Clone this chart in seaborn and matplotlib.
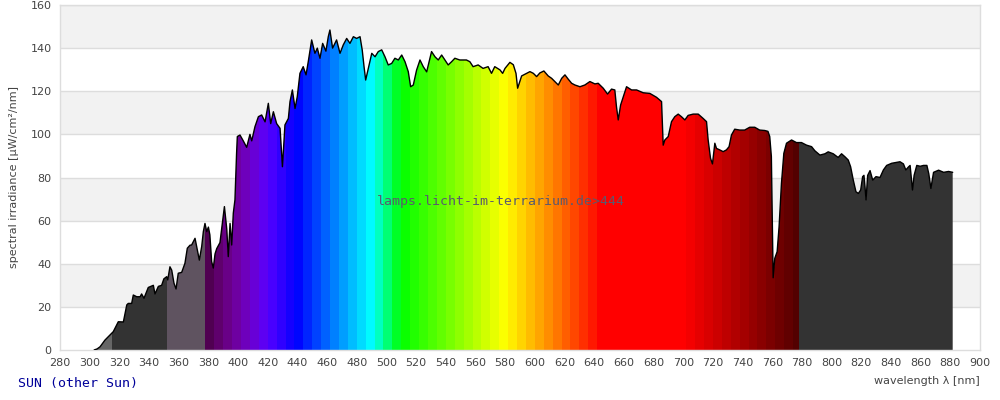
import numpy as np
import pandas as pd
import seaborn as sns
import matplotlib
matplotlib.use("Agg")
import matplotlib.pyplot as plt
from matplotlib.patches import Polygon

# spectral data (wavelength nm, irradiance uW/cm2/nm)
wavelength = [
    303.0, 305, 307, 310.3, 313.7, 315.9, 317, 319.3, 322.7, 325, 326, 328.3, 329.4, 331.7, 334, 335,
    336.6, 339.5, 342.9, 344, 346.3, 348.5, 350, 351.9, 352.6, 354.1, 355.3, 356.8, 358.2, 359.7, 362,
    364.2, 365.8, 367.6, 368.7, 369.8, 371, 372.1, 373.9, 375.5, 376.6, 377.7, 378.9, 380, 381, 382.2,
    383.3, 384.5, 385.6, 387.8, 390.8, 392.4, 393.4, 394.6, 395.7, 396.8, 397.9, 399, 399.5, 401.3,
    403.5, 405.8, 408, 409.2, 411.4, 413.7, 415.9, 418.2, 420.4, 422, 423.8, 426, 428.3, 429.9, 431.6,
    433.9, 435, 436.6, 438.4, 439.9, 441.7, 443.9, 445.8, 447.3, 449.6, 451.8, 453.4, 455.2, 457,
    459.2, 460.8, 461.9, 463.7, 466.4, 468.7, 470.9, 473.2, 475.4, 477.7, 479.9, 482.2, 483.7, 484.9,
    486, 487.8, 490.1, 492.3, 494.5, 496.8, 499, 501.2, 503.5, 505.7, 508, 510.3, 512.5, 514.7, 516.3,
    518.1, 520.3, 522.6, 524.8, 527.1, 529.3, 530.4, 532.7, 534.9, 537.2, 539.4, 541.6, 543.9, 546.1,
    549.4, 553.9, 556.2, 558.4, 561.8, 565.1, 568.5, 570.8, 573, 576.5, 578.3, 579.9, 583.2, 585.5,
    587.3, 588.4, 589.5, 591.1, 594.5, 596.7, 599, 601.2, 603.4, 606.1, 609, 611.3, 613.5, 615.8,
    618.1, 620.3, 622.5, 624.8, 627, 630.4, 633.7, 637.1, 640.5, 642.7, 646.1, 649, 651.7, 653.9, 655,
    656.2, 657.8, 659.6, 661.8, 665.2, 668.6, 673, 677.5, 682, 685.4, 686.5, 687.6, 689.9, 692.1,
    694.3, 696.6, 698.8, 701.1, 703.3, 706.7, 710.1, 713.4, 715.7, 716.8, 718.4, 719.7, 721.3, 722.4,
    724.6, 726.9, 729.1, 730.9, 732.5, 734.7, 738.1, 741.4, 744.8, 748.2, 751.5, 754.9, 757.1, 758.3,
    759.4, 759.9, 760.6, 761.7, 763.3, 764.6, 766.2, 767.8, 769.6, 773, 776.3, 779.7, 783.1, 786.5,
    788.7, 792.1, 795.5, 797.7, 801.1, 804.4, 806.7, 809, 811.2, 812.8, 814.6, 816.4, 818, 819.6,
    820.9, 821.8, 822.5, 823.2, 824.3, 825.9, 827.7, 829.9, 832.6, 834.9, 837.1, 840.5, 843.9, 846.1,
    848.4, 850, 851.8, 852.9, 854.5, 855.6, 857.4, 859.7, 861.9, 864.2, 865.5, 866.9, 868.7, 872.1,
    875.5, 878.8, 881.6,
]
irradiance = [
    0, 0.5, 1.5, 4.6, 7, 8.5, 10, 13.1, 13, 20.9, 21.6, 21.6, 25.5, 24.7, 24.7, 26,
    24, 29, 30, 26, 29.5, 30, 33, 34, 32.5, 38.6, 37, 31, 28.3, 35.6, 36,
    40.2, 47.2, 48.6, 48.7, 50.2, 51.8, 48, 41.7, 48, 54.9, 58.7, 54.9, 57, 53.4, 41,
    38, 44.6, 47, 49.8, 66.5, 56, 43.3, 58.7, 48.7, 63.5, 69.6, 91.2, 99, 99.7,
    97, 94, 100, 97, 103.6, 108.2, 109, 105.8, 114.4, 105, 110.5, 105, 102.8, 85, 104.4,
    107.4, 115.2, 120.6, 112, 117.5, 128.3, 131.4, 127.6, 133.7, 143.8, 137.6, 140, 135.3, 142.2,
    138.6, 145.3, 148.4, 140, 143.8, 137.6, 141.5, 144.5, 142.2, 145.3, 144.5, 145.3, 139, 131.4,
    125.2, 130.6, 137.6, 136, 138.4, 139.2, 136, 132.2, 132.9, 135.3, 134.5, 136.8, 133.7, 129.1, 122.1,
    122.9, 129.8, 134.5, 131.4, 129, 135.3, 138.4, 136, 134.5, 136.8, 134.5, 132.2, 133.7, 135.3,
    134.5, 134.5, 133.7, 131.4, 132.2, 130.6, 131.4, 128.3, 131.4, 129.9, 128.3, 130.6, 133.4, 132.3,
    128.3, 121.4, 123.7, 127.1, 128.3, 129.1, 128.3, 126.8, 128.5, 129.4, 127.1, 126, 124.5, 122.9,
    126, 127.6, 125.6, 123.7, 122.9, 122.1, 122.9, 124.5, 123.4, 123.7, 121.4, 118.7, 121, 120.6, 112.9,
    106.7, 113.6, 117.5, 122.1, 120.6, 120.6, 119.3, 119, 117.2, 115.2, 95, 97.4, 99, 105.9,
    108.2, 109.4, 108.2, 106.7, 108.8, 109.4, 109.4, 107.4, 105.9, 97.4, 88.9, 86.3, 95.9, 93.5,
    92.8, 92, 92.8, 94.3, 99.7, 102.4, 102, 102, 103.3, 103.3, 102, 101.8, 101.4, 99,
    89.7, 66.5, 33.5, 42.5, 45.6, 57.2, 77.3, 91.2, 95.9, 97.4, 96.2, 96.2, 95, 94.3,
    92.4, 90.4, 91, 91.9, 91, 89.3, 91, 89.6, 88.1, 85, 78.8, 73.4, 72.6, 74.2,
    80.4, 81, 75.7, 69.6, 81, 83.2, 78.8, 80.4, 80, 83.5, 85.6, 86.6, 87, 87.3,
    86.3, 83.5, 84.9, 85.6, 74.2, 81, 85.6, 85.2, 85.6, 85.6, 81.7, 74.9, 82.4, 83.4,
    82.4, 82.8, 82.4,
]

# non-visible sections and their fill colours
grey_starts = [300, 315, 352, 778]
grey_ends = [315, 352, 378, 882]
grey_colors = ["#666666", "#333333", "#5f5360", "#333333"]

x_ticks = list(range(280, 901, 20))
y_ticks = list(range(0, 161, 20))


def wl_color(w):
    # rough wavelength -> rgb (Bruton style)
    if w < 440:
        r, g, b = (440 - w) / 60, 0, 1
    elif w < 490:
        r, g, b = 0, (w - 440) / 50, 1
    elif w < 510:
        r, g, b = 0, 1, (510 - w) / 20
    elif w < 580:
        r, g, b = (w - 510) / 70, 1, 0
    elif w < 645:
        r, g, b = 1, (645 - w) / 65, 0
    else:
        r, g, b = 1, 0, 0
    if w < 420:
        f = 0.3 + 0.7 * (w - 380) / 40
    elif w > 700:
        f = 0.3 + 0.7 * (780 - w) / 80
    else:
        f = 1
    return (min(r * f, 1), min(g * f, 1), min(b * f, 1))


df = pd.DataFrame({"wavelength": wavelength, "irradiance": irradiance})

sns.set_theme(style="white")
plt.rcParams["font.family"] = ["DejaVu Sans"]

fig = plt.figure(figsize=(10, 4), dpi=100)
ax = fig.add_axes([0.06, 0.125, 0.92, 0.8625])

# background stripes + grid
for lo in range(20, 160, 40):
    ax.axhspan(lo, lo + 20, color="#f2f2f2", zorder=0, lw=0)
for yv in y_ticks[1:]:
    ax.axhline(yv, color="#dddddd", lw=1, zorder=0.5)

# clip shape of the spectrum
verts = np.column_stack([np.r_[df["wavelength"].iloc[0], df["wavelength"], df["wavelength"].iloc[-1]],
                         np.r_[0, df["irradiance"], 0]])
shape = Polygon(verts, closed=True, facecolor="none", edgecolor="none", transform=ax.transData)
ax.add_patch(shape)

# band edges: grey parts and 6 nm colour bands
lefts = list(grey_starts)
widths = [e - s for s, e in zip(grey_starts, grey_ends)]
colors = list(grey_colors)
for s in range(378, 778, 6):
    e = min(s + 6, 778)
    lefts.append(s)
    widths.append(e - s + 0.3)
    colors.append(wl_color(s + 3))
bars = ax.bar(lefts, [160] * len(lefts), width=widths, align="edge", color=colors, lw=0, zorder=2)
for b in bars:
    b.set_clip_path(shape)

sns.lineplot(data=df, x="wavelength", y="irradiance", color="black", lw=1, ax=ax, zorder=3)

ax.set_xlim(280, 900)
ax.set_ylim(0, 160)
ax.set_xticks(x_ticks)
ax.set_yticks(y_ticks)
ax.tick_params(length=0, labelsize=8, labelcolor="#444444", pad=6)
for sp in ax.spines.values():
    sp.set_color("#dddddd")
    sp.set_linewidth(1)
ax.set_xlabel("")
ax.set_ylabel("spectral irradiance [µW/cm²/nm]", fontsize=8, color="#444444", labelpad=8)

fig.text(0.501, 0.4975, "lamps.licht-im-terrarium.de>444", ha="center", va="center",
         family="DejaVu Sans Mono", fontsize=9.5, color="#5a5a6e", zorder=4)
fig.text(0.98, 0.047, "wavelength λ [nm]", ha="right", va="center", fontsize=8, color="#444444")
fig.text(0.018, 0.04, "SUN (other Sun)", ha="left", va="center", family="DejaVu Sans Mono",
         fontsize=9.5, color="#000099")

plt.savefig("out.png", dpi=100)
